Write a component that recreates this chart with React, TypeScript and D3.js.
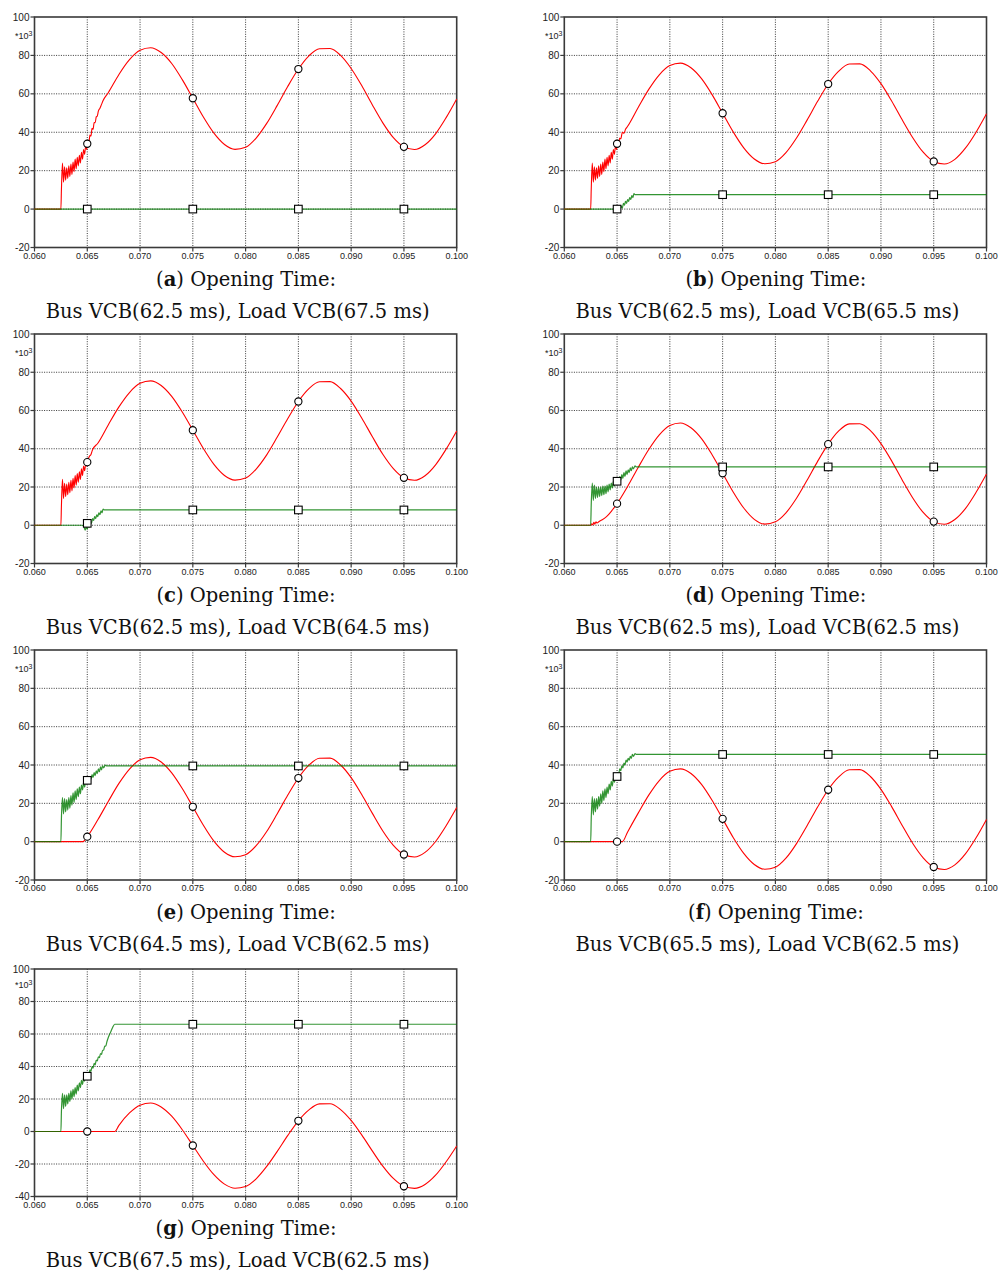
import { useEffect } from "react";
import * as d3 from "d3";

type Pt = [number, number];

// time in ms, values in kA-ish (*10^3)
const X_TICKS = [60, 65, 70, 75, 80, 85, 90, 95, 100];
const X_TICK_LABELS = ["0.060", "0.065", "0.070", "0.075", "0.080", "0.085", "0.090", "0.095", "0.100"];
const Y_TICKS = [100, 80, 60, 40, 20, 0, -20];
const Y_TICKS_G = [100, 80, 60, 40, 20, 0, -20, -40];
const MARK_T = [65, 75, 85, 95];

// shared rippled rise after bus VCB opening (panels a, b, c)
const abcRipple: Pt[] = [
  [62.55, 10], [62.65, 24], [62.75, 14], [62.85, 22], [62.95, 15], [63.05, 21.5], [63.15, 16],
  [63.25, 22.5], [63.35, 17], [63.45, 23.5], [63.55, 18], [63.65, 24.5], [63.75, 19.5], [63.85, 26],
  [63.95, 21], [64.05, 27], [64.15, 22.5], [64.25, 28], [64.35, 24], [64.45, 29.5], [64.55, 26],
  [64.65, 31], [64.75, 28.5],
];

// (a)
const aRed: Pt[] = [
  [60, 0], [62.5, 0], ...abcRipple,
  [64.85, 33], [64.95, 31], [65.05, 35.5], [65.15, 34.5], [65.25, 38.5], [65.35, 38], [65.45, 42],
  [65.55, 41.5], [65.65, 45], [65.75, 45], [65.85, 48], [65.95, 48.5], [66.05, 51], [66.2, 52.5],
  [66.35, 54.5], [66.5, 56.5],
  [67, 60.7], [68, 70.1], [69, 77.8], [70, 82.7], [71, 84.0], [72, 81.5], [73, 75.8], [74, 67.4],
  [75, 57.7], [76, 47.9], [77, 39.5], [78, 33.6], [79, 31.1], [80, 32.2], [81, 37.0], [82, 44.6],
  [83, 54.0], [84, 63.9], [85, 72.9], [86, 79.8], [87, 83.5], [88, 83.6], [89, 80.0], [90, 73.2],
  [91, 64.3], [92, 54.3], [93, 44.9], [94, 37.2], [95, 32.4], [96, 31.0], [97, 33.5], [98, 39.2],
  [99, 47.6], [100, 57.3],
];
const aGreen: Pt[] = [[60, 0], [100, 0]];
const aRedMarks = [34, 57.7, 72.9, 32.4];
const aGreenMarks = [0, 0, 0, 0];

// (b)
const bRed: Pt[] = [
  [60, 0], [62.5, 0], ...abcRipple,
  [64.85, 33], [64.95, 31], [65.05, 34.5], [65.15, 34], [65.25, 37], [65.35, 36.5], [65.5, 40],
  [65.65, 39.5], [65.8, 41.5], [66, 43.1],
  [67, 52.9], [68, 62.3], [69, 69.9], [70, 74.7], [71, 76.0], [72, 73.6], [73, 67.9], [74, 59.6],
  [75, 49.9], [76, 40.2], [77, 31.9], [78, 26.1], [79, 23.6], [80, 24.7], [81, 29.4], [82, 37.0],
  [83, 46.3], [84, 56.1], [85, 65.1], [86, 71.8], [87, 75.5], [88, 75.6], [89, 72.0], [90, 65.3],
  [91, 56.4], [92, 46.6], [93, 37.3], [94, 29.6], [95, 24.8], [96, 23.5], [97, 25.9], [98, 31.7],
  [99, 39.9], [100, 49.6],
];
const bGreen: Pt[] = [
  [60, 0], [65.3, 0], [65.4, 1.5], [65.5, 0.5], [65.6, 3], [65.7, 2], [65.8, 4], [65.9, 3], [66.0, 5],
  [66.1, 4], [66.2, 6], [66.3, 5], [66.4, 7], [66.5, 6], [66.6, 8], [66.7, 7.5], [100, 7.5],
];
const bRedMarks = [34, 49.9, 65.1, 24.8];
const bGreenMarks = [0, 7.5, 7.5, 7.5];

// (c)
const cRed: Pt[] = [
  [60, 0], [62.5, 0], ...abcRipple,
  [64.85, 32], [64.95, 31], [65.05, 34], [65.2, 36], [65.35, 37], [65.5, 39.5], [66, 42.9],
  [67, 52.6], [68, 61.9], [69, 69.4], [70, 74.2], [71, 75.5], [72, 73.1], [73, 67.4], [74, 59.2],
  [75, 49.7], [76, 40.1], [77, 31.8], [78, 26.0], [79, 23.6], [80, 24.7], [81, 29.4], [82, 36.8],
  [83, 46.1], [84, 55.8], [85, 64.7], [86, 71.4], [87, 75.0], [88, 75.1], [89, 71.5], [90, 64.9],
  [91, 56.1], [92, 46.4], [93, 37.1], [94, 29.6], [95, 24.8], [96, 23.5], [97, 25.9], [98, 31.6],
  [99, 39.8], [100, 49.3],
];
const cGreen: Pt[] = [
  [60, 0], [64.5, 0], [64.7, -1], [64.8, -2.5], [64.9, -1], [65.0, -2], [65.1, 0], [65.2, -1],
  [65.3, 2], [65.4, 1], [65.5, 3.5], [65.6, 2.5], [65.7, 4.5], [65.8, 3.5], [65.9, 5.5], [66.0, 4.5],
  [66.1, 6.5], [66.2, 5.5], [66.3, 7.5], [66.4, 6.5], [66.5, 8.5], [66.6, 8], [100, 8],
];
const cRedMarks = [33, 49.7, 64.7, 24.8];
const cGreenMarks = [1, 8, 8, 8];

// (d)
const dRed: Pt[] = [
  [60, 0], [62.5, 0], [62.6, 0.8], [62.7, 0.2], [62.8, 1.5], [62.9, 0.6], [63.0, 1.8], [63.1, 1.2],
  [63.3, 2.0], [63.6, 2.9], [64, 4.5], [64.5, 7.6], [65, 11.3], [66, 20.3],
  [67, 30.2], [68, 39.6], [69, 47.3], [70, 52.2], [71, 53.5], [72, 51.0], [73, 45.3], [74, 36.9],
  [75, 27.2], [76, 17.4], [77, 9.0], [78, 3.1], [79, 0.6], [80, 1.8], [81, 6.5], [82, 14.1],
  [83, 23.5], [84, 33.4], [85, 42.4], [86, 49.3], [87, 53.0], [88, 53.1], [89, 49.5], [90, 42.7],
  [91, 33.8], [92, 23.8], [93, 14.4], [94, 6.7], [95, 1.9], [96, 0.5], [97, 3.0], [98, 8.7],
  [99, 17.1], [100, 26.8],
];
const dGreen: Pt[] = [
  [60, 0], [62.5, 0], [62.55, 10.5], [62.65, 22], [62.75, 13], [62.85, 21], [62.95, 14], [63.05, 20],
  [63.15, 14.5], [63.25, 20], [63.35, 15], [63.45, 20], [63.55, 15.5], [63.65, 20.5], [63.75, 16],
  [63.85, 20.5], [63.95, 16.5], [64.05, 21], [64.15, 17.5], [64.25, 21.5], [64.35, 18.5], [64.45, 22],
  [64.55, 19.5], [64.65, 23], [64.75, 20.5], [64.85, 23.5], [64.95, 21.5], [65.05, 24.5], [65.15, 22.5],
  [65.25, 25.5], [65.35, 23.5], [65.45, 26.5], [65.55, 24.5], [65.65, 27.5], [65.75, 25.5],
  [65.85, 28.5], [65.95, 26.5], [66.05, 29], [66.15, 27.5], [66.25, 30], [66.35, 28.5], [66.45, 30.5],
  [66.55, 29.5], [66.7, 31], [66.8, 30.5], [100, 30.5],
];
const dRedMarks = [11.3, 27.2, 42.4, 1.9];
const dGreenMarks = [23, 30.5, 30.5, 30.5];

// (e)
const eRed: Pt[] = [
  [60, 0], [64.6, 0], [65, 2.6], [66, 11.4],
  [67, 21.1], [68, 30.4], [69, 37.9], [70, 42.7], [71, 44.0], [72, 41.6], [73, 35.9], [74, 27.7],
  [75, 18.2], [76, 8.6], [77, 0.3], [78, -5.5], [79, -7.9], [80, -6.8], [81, -2.1], [82, 5.3],
  [83, 14.6], [84, 24.3], [85, 33.2], [86, 39.9], [87, 43.5], [88, 43.6], [89, 40.0], [90, 33.4],
  [91, 24.6], [92, 14.9], [93, 5.6], [94, -1.9], [95, -6.7], [96, -8.0], [97, -5.6], [98, 0.1],
  [99, 8.3], [100, 17.8],
];
const eGreen: Pt[] = [
  [60, 0], [62.5, 0], [62.55, 12], [62.65, 23], [62.75, 14.5], [62.85, 22.5], [62.95, 15.5],
  [63.05, 22], [63.15, 16.5], [63.25, 23], [63.35, 17.5], [63.45, 24], [63.55, 19], [63.65, 25.5],
  [63.75, 20.5], [63.85, 26.5], [63.95, 22], [64.05, 27.5], [64.15, 23.5], [64.25, 28.5], [64.35, 25],
  [64.45, 29.5], [64.55, 27], [64.65, 31], [64.75, 28.5], [64.85, 32], [64.95, 30], [65.05, 33],
  [65.15, 31.5], [65.25, 34], [65.35, 32.5], [65.45, 35], [65.55, 33.5], [65.65, 36], [65.75, 34.5],
  [65.85, 37], [65.95, 35.5], [66.05, 38], [66.15, 36.5], [66.25, 39], [66.35, 37.5], [66.45, 39.5],
  [66.55, 38.5], [66.7, 40], [66.8, 39.5], [100, 39.5],
];
const eRedMarks = [2.6, 18.2, 33.2, -6.7];
const eGreenMarks = [32, 39.5, 39.5, 39.5];

// (f)
const fRed: Pt[] = [
  [60, 0], [65.5, 0], [66, 5.1],
  [67, 14.9], [68, 24.3], [69, 31.9], [70, 36.7], [71, 38.0], [72, 35.6], [73, 29.9], [74, 21.6],
  [75, 11.9], [76, 2.2], [77, -6.1], [78, -11.9], [79, -14.4], [80, -13.3], [81, -8.6], [82, -1.0],
  [83, 8.3], [84, 18.1], [85, 27.1], [86, 33.8], [87, 37.5], [88, 37.6], [89, 34.0], [90, 27.3],
  [91, 18.4], [92, 8.6], [93, -0.8], [94, -8.4], [95, -13.2], [96, -14.5], [97, -12.1], [98, -6.4],
  [99, 1.9], [100, 11.6],
];
const fGreen: Pt[] = [
  [60, 0], [62.5, 0], [62.55, 11.5], [62.65, 23.5], [62.75, 14], [62.85, 22.5], [62.95, 15.5],
  [63.05, 22.5], [63.15, 17], [63.25, 23.5], [63.35, 18.5], [63.45, 25], [63.55, 20], [63.65, 26.5],
  [63.75, 21.5], [63.85, 27.5], [63.95, 23], [64.05, 28.5], [64.15, 25], [64.25, 30], [64.35, 27],
  [64.45, 31.5], [64.55, 29], [64.65, 33], [64.75, 31], [64.85, 34.5], [64.95, 33], [65.05, 36],
  [65.15, 35], [65.25, 38], [65.35, 37], [65.45, 39.5], [65.55, 38.5], [65.65, 41], [65.75, 40],
  [65.85, 42.5], [65.95, 41.5], [66.05, 43.5], [66.15, 42.5], [66.25, 44.5], [66.35, 43.5],
  [66.45, 45.5], [66.55, 44.5], [66.7, 46], [66.8, 45.5], [100, 45.5],
];
const fRedMarks = [0, 11.9, 27.1, -13.2];
const fGreenMarks = [34, 45.5, 45.5, 45.5];

// (g)
const gRed: Pt[] = [
  [60, 0], [67.6, 0], [68, 3.8], [69, 11.4], [70, 16.2], [71, 17.5], [72, 15.1], [73, 9.4],
  [74, 1.1], [75, -8.6], [76, -18.3], [77, -26.6], [78, -32.4], [79, -34.9], [80, -33.8], [81, -29.1],
  [82, -21.5], [83, -12.2], [84, -2.4], [85, 6.6], [86, 13.3], [87, 17.0], [88, 17.1], [89, 13.5],
  [90, 6.8], [91, -2.1], [92, -11.9], [93, -21.3], [94, -28.9], [95, -33.7], [96, -35.0], [97, -32.6],
  [98, -26.9], [99, -18.6], [100, -8.9],
];
const gGreen: Pt[] = [
  [60, 0], [62.5, 0], [62.55, 12], [62.65, 23.5], [62.75, 14], [62.85, 22.5], [62.95, 15.5],
  [63.05, 22.5], [63.15, 17], [63.25, 23.5], [63.35, 18.5], [63.45, 25], [63.55, 20], [63.65, 26],
  [63.75, 21.5], [63.85, 27], [63.95, 23], [64.05, 28.5], [64.15, 25], [64.25, 30], [64.35, 27],
  [64.45, 31.5], [64.55, 29], [64.65, 33], [64.75, 31], [64.85, 34.5], [64.95, 33], [65.05, 36],
  [65.15, 35], [65.25, 38], [65.35, 37], [65.45, 40], [65.55, 39], [65.65, 42], [65.75, 41],
  [65.85, 44], [65.95, 43.5], [66.05, 46], [66.15, 45.5], [66.25, 48], [66.35, 47.5], [66.45, 50],
  [66.55, 50], [66.65, 52.5], [66.75, 52.5], [66.85, 55], [67.0, 58], [67.2, 61], [67.4, 64],
  [67.6, 66], [100, 66],
];
const gRedMarks = [0, -8.6, 6.6, -33.7];
const gGreenMarks = [34, 66, 66, 66];

const PANELS = [
  { id: "a", bus: "62.5", load: "67.5", red: aRed, green: aGreen, redMarks: aRedMarks, greenMarks: aGreenMarks, yTicks: Y_TICKS },
  { id: "b", bus: "62.5", load: "65.5", red: bRed, green: bGreen, redMarks: bRedMarks, greenMarks: bGreenMarks, yTicks: Y_TICKS },
  { id: "c", bus: "62.5", load: "64.5", red: cRed, green: cGreen, redMarks: cRedMarks, greenMarks: cGreenMarks, yTicks: Y_TICKS },
  { id: "d", bus: "62.5", load: "62.5", red: dRed, green: dGreen, redMarks: dRedMarks, greenMarks: dGreenMarks, yTicks: Y_TICKS },
  { id: "e", bus: "64.5", load: "62.5", red: eRed, green: eGreen, redMarks: eRedMarks, greenMarks: eGreenMarks, yTicks: Y_TICKS },
  { id: "f", bus: "65.5", load: "62.5", red: fRed, green: fGreen, redMarks: fRedMarks, greenMarks: fGreenMarks, yTicks: Y_TICKS },
  { id: "g", bus: "67.5", load: "62.5", red: gRed, green: gGreen, redMarks: gRedMarks, greenMarks: gGreenMarks, yTicks: Y_TICKS_G },
];

// layout
const COLS = [[34.5, 456.7], [564.3, 986.5]];
const ROWS = [[17, 247.5], [334, 563.5], [650, 880], [969, 1196.5]];

const RED = "#ff0000";
const GREEN = "#007a00";
const AXIS = "#3a3a3a";
const TICK_FONT = "'Liberation Sans', Arial, sans-serif";
const CAP_FONT = "'DejaVu Serif', serif";

type Spec = (typeof PANELS)[number];

function Panel({ p, col, row }: { p: Spec; col: number; row: number }) {
  const [left, right] = COLS[col];
  const [top, bottom] = ROWS[row];
  const yt = p.yTicks;
  const x = d3.scaleLinear().domain([60, 100]).range([left, right]);
  const y = d3.scaleLinear().domain([yt[yt.length - 1], yt[0]]).range([bottom, top]);
  const line = d3
    .line<Pt>()
    .x((d) => x(d[0]))
    .y((d) => y(d[1]))
    .curve(d3.curveMonotoneX);
  const cx = (left + right) / 2;

  return (
    <g>
      {/* grid */}
      {yt.slice(1, -1).map((v) => (
        <line key={"gy" + v} x1={left} x2={right} y1={y(v)} y2={y(v)} stroke="#222" strokeWidth={0.9} strokeDasharray="1,1.4" />
      ))}
      {X_TICKS.slice(1, -1).map((t) => (
        <line key={"gx" + t} x1={x(t)} x2={x(t)} y1={top} y2={bottom} stroke="#222" strokeWidth={0.9} strokeDasharray="1,1.4" />
      ))}
      {/* frame */}
      <rect x={left} y={top} width={right - left} height={bottom - top} fill="none" stroke={AXIS} strokeWidth={1.6} />
      {/* ticks */}
      {yt.map((v) => (
        <g key={"yt" + v}>
          <line x1={left - 4} x2={left} y1={y(v)} y2={y(v)} stroke={AXIS} strokeWidth={1.2} />
          <text x={left - 5} y={y(v)} dy="0.35em" textAnchor="end" fontSize={10} fontFamily={TICK_FONT} fill="#222">
            {v}
          </text>
        </g>
      ))}
      <text x={left - 2} y={y((yt[0] + yt[1]) / 2) + 3} textAnchor="end" fontSize={9} fontFamily={TICK_FONT} fill="#222">
        *10<tspan dy="-3" fontSize={7}>3</tspan>
      </text>
      {X_TICKS.map((t, i) => (
        <g key={"xt" + t}>
          <line x1={x(t)} x2={x(t)} y1={bottom} y2={bottom + 4} stroke={AXIS} strokeWidth={1.2} />
          <text x={x(t)} y={bottom + 11} textAnchor="middle" fontSize={9} fontFamily={TICK_FONT} fill="#222">
            {X_TICK_LABELS[i]}
          </text>
        </g>
      ))}
      {/* series */}
      <path d={line(p.red) || ""} fill="none" stroke={RED} strokeWidth={1.1} />
      <path d={line(p.green) || ""} fill="none" stroke={GREEN} strokeOpacity={0.8} strokeWidth={1.2} />
      {/* markers */}
      {MARK_T.map((t, i) => (
        <circle key={"rm" + t} cx={x(t)} cy={y(p.redMarks[i])} r={3.6} fill="#fff" stroke="#000" strokeWidth={1.1} />
      ))}
      {MARK_T.map((t, i) => (
        <rect
          key={"gm" + t}
          x={x(t) - 3.8}
          y={y(p.greenMarks[i]) - 3.8}
          width={7.6}
          height={7.6}
          fill="#fff"
          stroke="#000"
          strokeWidth={1.1}
        />
      ))}
      {/* caption */}
      <text x={cx + 0.5} y={bottom + 38.5} textAnchor="middle" fontSize={19.5} fontFamily={CAP_FONT} fill="#111">
        (<tspan fontWeight="bold">{p.id}</tspan>) Opening Time:
      </text>
      <text x={cx - 8} y={bottom + 70.5} textAnchor="middle" fontSize={19.5} fontFamily={CAP_FONT} fill="#111">
        {`Bus VCB(${p.bus} ms), Load VCB(${p.load} ms)`}
      </text>
    </g>
  );
}

export default function App() {
  useEffect(() => {
    document.body.style.margin = "0";
  }, []);
  return (
    <svg width={1001} height={1273} style={{ position: "absolute", left: 0, top: 0, background: "#fff" }}>
      <rect width={1001} height={1273} fill="#fff" />
      {PANELS.map((p, i) => (
        <Panel key={p.id} p={p} col={i % 2} row={Math.floor(i / 2)} />
      ))}
    </svg>
  );
}
